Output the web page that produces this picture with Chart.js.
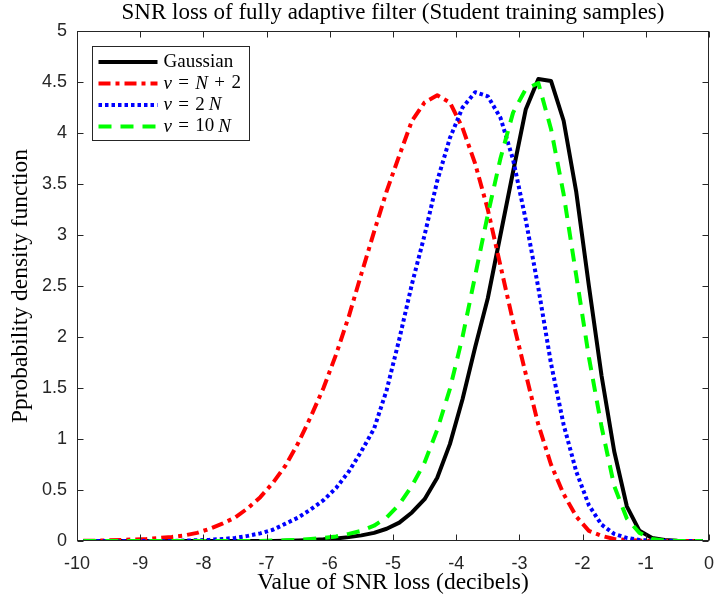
<!DOCTYPE html>
<html>
<head>
<meta charset="utf-8">
<title>SNR loss</title>
<script src="https://cdn.jsdelivr.net/npm/chart.js@4.4.1/dist/chart.umd.min.js"></script>
<style>
  html, body { margin: 0; padding: 0; background: #fff; }
</style>
</head>
<body>
<canvas id="snr" width="726" height="606"></canvas>
<script>
// histogram bin centres (dB)
var snrLoss = [-9.9, -9.7, -9.5, -9.3, -9.1, -8.9, -8.7, -8.5, -8.3, -8.1,
               -7.9, -7.7, -7.5, -7.3, -7.1, -6.9, -6.7, -6.5, -6.3, -6.1,
               -5.9, -5.7, -5.5, -5.3, -5.1, -4.9, -4.7, -4.5, -4.3, -4.1,
               -3.9, -3.7, -3.5, -3.3, -3.1, -2.9, -2.7, -2.5, -2.3, -2.1,
               -1.9, -1.7, -1.5, -1.3, -1.1, -0.9, -0.7, -0.5, -0.3, -0.1];

var gaussian = [0, 0, 0, 0, 0, 0, 0, 0, 0, 0,
                0, 0, 0, 0, 0, 0.001, 0.003, 0.006, 0.01, 0.016,
                0.025, 0.038, 0.055, 0.08, 0.12, 0.18, 0.28, 0.41, 0.62, 0.95,
                1.39, 1.90, 2.38, 3.00, 3.62, 4.23, 4.53, 4.51, 4.12, 3.42,
                2.50, 1.62, 0.88, 0.34, 0.10, 0.03, 0.01, 0.002, 0, 0];

var nuNplus2 = [0.002, 0.003, 0.006, 0.01, 0.015, 0.02, 0.03, 0.04, 0.055, 0.08,
                0.12, 0.17, 0.23, 0.32, 0.43, 0.57, 0.74, 0.96, 1.22, 1.50,
                1.83, 2.20, 2.62, 3.03, 3.43, 3.78, 4.12, 4.30, 4.37, 4.30,
                4.05, 3.70, 3.25, 2.70, 2.15, 1.64, 1.14, 0.75, 0.46, 0.24,
                0.10, 0.05, 0.02, 0.01, 0.004, 0, 0, 0, 0, 0];

var nu2N = [0, 0, 0, 0, 0, 0, 0, 0, 0.004, 0.007,
            0.012, 0.02, 0.03, 0.05, 0.075, 0.11, 0.17, 0.23, 0.31, 0.40,
            0.52, 0.68, 0.88, 1.10, 1.48, 1.98, 2.52, 3.00, 3.53, 3.95,
            4.25, 4.40, 4.36, 4.15, 3.74, 3.15, 2.48, 1.74, 1.14, 0.68,
            0.35, 0.16, 0.07, 0.03, 0.01, 0.004, 0, 0, 0, 0];

var nu10N = [0, 0, 0, 0, 0, 0, 0, 0, 0, 0,
             0, 0, 0, 0, 0, 0.004, 0.007, 0.012, 0.02, 0.03,
             0.045, 0.07, 0.10, 0.15, 0.23, 0.36, 0.54, 0.77, 1.09, 1.49,
             2.00, 2.60, 3.20, 3.75, 4.20, 4.43, 4.49, 4.04, 3.40, 2.60,
             1.80, 1.12, 0.54, 0.22, 0.08, 0.02, 0.005, 0, 0, 0];

var xTicks = [-10, -9, -8, -7, -6, -5, -4, -3, -2, -1, 0];
var yTicks = [0, 0.5, 1, 1.5, 2, 2.5, 3, 3.5, 4, 4.5, 5];

// legend labels, italic parts flagged (thick spaces mimic TeX math spacing)
var legendLabels = [
    [{t: 'Gaussian'}],
    [{t: '\u03bd', i: true}, {t: '\u2004=\u2004'}, {t: 'N', i: true}, {t: '\u2004+\u20042'}],
    [{t: '\u03bd', i: true}, {t: '\u2004=\u20042\u2009'}, {t: 'N', i: true}],
    [{t: '\u03bd', i: true}, {t: '\u2004=\u200410\u2009'}, {t: 'N', i: true}]
];

var axisColor = '#262626';
var serif = '"Liberation Serif", "Times New Roman", serif';
var sans = '"Liberation Sans", Arial, sans-serif';

function pairs(ys) {
    return snrLoss.map(function (x, k) { return {x: x, y: ys[k]}; });
}

var matlabAxes = {
    id: 'matlabAxes',
    afterDatasetsDraw: function (chart) {
        var ctx = chart.ctx, a = chart.chartArea;
        var xs = chart.scales.x, ys = chart.scales.y;
        var L = Math.round(a.left) + 0.5, R = Math.round(a.right) - 0.5;
        var T = Math.round(a.top) + 0.5, B = Math.round(a.bottom) - 0.5;
        var tl = 6;
        ctx.save();
        ctx.strokeStyle = axisColor;
        ctx.lineWidth = 1;
        ctx.strokeRect(L, T, R - L, B - T);
        ctx.beginPath();
        xTicks.forEach(function (v) {
            var px = Math.round(xs.getPixelForValue(v)) + 0.5;
            ctx.moveTo(px, B); ctx.lineTo(px, B - tl);
            ctx.moveTo(px, T); ctx.lineTo(px, T + tl);
        });
        yTicks.forEach(function (v) {
            var py = Math.round(ys.getPixelForValue(v)) + 0.5;
            ctx.moveTo(L, py); ctx.lineTo(L + tl, py);
            ctx.moveTo(R, py); ctx.lineTo(R - tl, py);
        });
        ctx.stroke();

        // title, centred on the plot box
        ctx.fillStyle = '#000';
        ctx.font = '23px ' + serif;
        ctx.textAlign = 'center';
        ctx.textBaseline = 'alphabetic';
        ctx.fillText('SNR loss of fully adaptive filter (Student training samples)', (a.left + a.right) / 2, 19);

        // legend
        var lx = Math.round(a.left) + 15.5, ly = Math.round(a.top) + 15.5;
        var lw = 157, lh = 94;
        ctx.fillStyle = '#fff';
        ctx.fillRect(lx, ly, lw, lh);
        ctx.strokeStyle = axisColor;
        ctx.strokeRect(lx, ly, lw, lh);
        ctx.textAlign = 'left';
        ctx.textBaseline = 'middle';
        chart.data.datasets.forEach(function (ds, k) {
            var ry = ly + 15.5 + k * 21.5;
            ctx.save();
            ctx.strokeStyle = ds.borderColor;
            ctx.lineWidth = ds.borderWidth;
            ctx.setLineDash(ds.borderDash || []);
            ctx.beginPath();
            ctx.moveTo(lx + 6, ry);
            ctx.lineTo(lx + 65, ry);
            ctx.stroke();
            ctx.restore();
            var tx = lx + 71;
            ctx.fillStyle = '#000';
            legendLabels[k].forEach(function (p) {
                ctx.font = (p.i ? 'italic ' : '') + '19px ' + serif;
                ctx.fillText(p.t, tx, ry);
                tx += ctx.measureText(p.t).width;
            });
        });
        ctx.restore();
    }
};

new Chart(document.getElementById('snr'), {
    type: 'line',
    data: {
        datasets: [
            {
                label: 'Gaussian',
                data: pairs(gaussian),
                borderColor: '#000000',
                borderWidth: 4,
                order: 3
            },
            {
                label: 'nu = N + 2',
                data: pairs(nuNplus2),
                borderColor: '#ff0000',
                borderWidth: 4,
                borderDash: [12, 5, 4, 5],
                order: 2
            },
            {
                label: 'nu = 2 N',
                data: pairs(nu2N),
                borderColor: '#0000ff',
                borderWidth: 4,
                borderDash: [3.5, 3],
                order: 1
            },
            {
                label: 'nu = 10 N',
                data: pairs(nu10N),
                borderColor: '#00ff00',
                borderWidth: 4,
                borderDash: [13, 9],
                order: 0
            }
        ]
    },
    options: {
        responsive: false,
        animation: false,
        devicePixelRatio: 1,
        layout: { padding: { top: 31, right: 5, left: 0, bottom: 0 } },
        elements: {
            point: { radius: 0 },
            line: { tension: 0, fill: false, borderJoinStyle: 'round', borderCapStyle: 'butt' }
        },
        plugins: {
            legend: { display: false },
            title: { display: false },
            tooltip: { enabled: false }
        },
        scales: {
            x: {
                type: 'linear',
                min: -10,
                max: 0,
                afterBuildTicks: function (s) { s.ticks = xTicks.map(function (v) { return {value: v}; }); },
                afterFit: function (s) { s.height = 65; },
                ticks: {
                    color: axisColor,
                    font: { family: sans, size: 18 },
                    padding: 12,
                    maxRotation: 0,
                    autoSkip: false,
                    callback: function (v) { return String(v); }
                },
                grid: { display: false, drawTicks: false },
                border: { display: false },
                title: {
                    display: true,
                    text: 'Value of SNR loss (decibels)',
                    color: '#000',
                    font: { family: serif, size: 23.5 },
                    padding: { top: 0, bottom: 9 }
                }
            },
            y: {
                min: 0,
                max: 5,
                afterBuildTicks: function (s) { s.ticks = yTicks.map(function (v) { return {value: v}; }); },
                afterFit: function (s) { s.width = 77; },
                ticks: {
                    color: axisColor,
                    font: { family: sans, size: 18 },
                    padding: 10,
                    callback: function (v) { return String(v); }
                },
                grid: { display: false, drawTicks: false },
                border: { display: false },
                title: {
                    display: true,
                    text: 'Pprobability density function',
                    color: '#000',
                    font: { family: serif, size: 23.5 },
                    padding: { top: 7, bottom: 0 }
                }
            }
        }
    },
    plugins: [matlabAxes]
});
</script>
</body>
</html>
